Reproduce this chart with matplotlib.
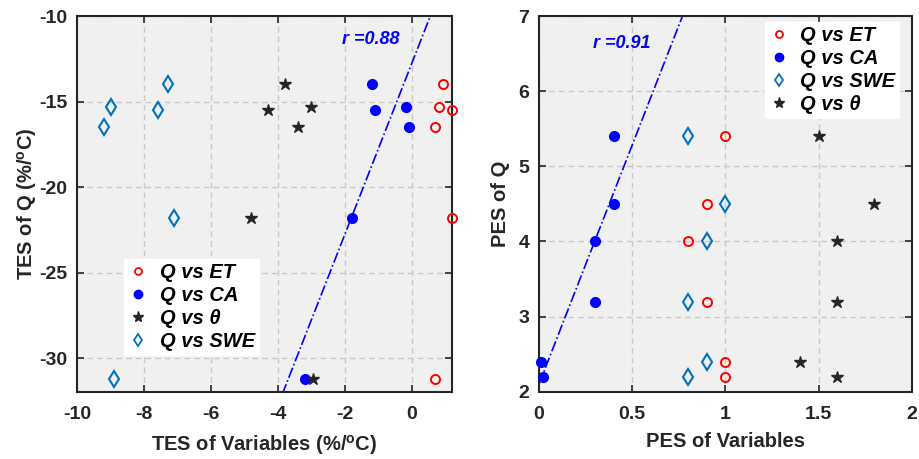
import numpy as np
import matplotlib
matplotlib.use("Agg")
import matplotlib.pyplot as plt
from matplotlib.lines import Line2D

plt.rcParams['font.family'] = ['Liberation Sans', 'DejaVu Sans']
plt.rcParams['font.weight'] = 'bold'
plt.rcParams['axes.unicode_minus'] = False
plt.rcParams['mathtext.fontset'] = 'custom'
plt.rcParams['mathtext.rm'] = 'Liberation Sans:bold'
plt.rcParams['mathtext.bf'] = 'Liberation Sans:bold'

# ---- Left panel (TES) ----
tes_et_x = [0.93, 0.81, 1.2, 0.70, 1.2, 0.70]
tes_et_y = [-14.0, -15.3, -15.5, -16.5, -21.8, -31.2]
tes_ca_x = [-1.19, -0.18, -1.09, -0.08, -1.78, -3.19]
tes_ca_y = [-14.0, -15.3, -15.5, -16.5, -21.8, -31.2]
tes_th_x = [-3.8, -3.0, -4.3, -3.4, -4.8, -2.96]
tes_th_y = [-14.0, -15.3, -15.5, -16.5, -21.8, -31.2]
tes_swe_x = [-7.3, -9.0, -7.6, -9.2, -7.1, -8.9]
tes_swe_y = [-14.0, -15.3, -15.5, -16.5, -21.8, -31.2]

# ---- Right panel (PES) ----
pes_et_x = [1.0, 0.9, 0.8, 0.9, 1.0, 1.0]
pes_et_y = [5.4, 4.5, 4.0, 3.2, 2.4, 2.2]
pes_ca_x = [0.4, 0.4, 0.3, 0.3, 0.01, 0.02]
pes_ca_y = [5.4, 4.5, 4.0, 3.2, 2.4, 2.2]
pes_swe_x = [0.8, 1.0, 0.9, 0.8, 0.9, 0.8]
pes_swe_y = [5.4, 4.5, 4.0, 3.2, 2.4, 2.2]
pes_th_x = [1.5, 1.8, 1.6, 1.6, 1.4, 1.6]
pes_th_y = [5.4, 4.5, 4.0, 3.2, 2.4, 2.2]

RED = '#FF0000'
BLUE = '#0000FF'
DARK = '#262626'
SWEC = '#0072BD'
BG = '#F0F0F0'

fig = plt.figure(figsize=(9.19, 4.59), dpi=100)
axL = fig.add_axes([0.0841, 0.1453, 0.4074, 0.8198])
axR = fig.add_axes([0.5865, 0.1466, 0.4056, 0.8185])

LEGPROP = {'size': 14.5, 'weight': 'bold', 'style': 'italic'}


def style(ax):
    ax.set_facecolor(BG)
    ax.grid(True, linestyle=(0, (4, 3)), color='#C8C8C8', linewidth=1.0)
    ax.set_axisbelow(True)
    for s in ax.spines.values():
        s.set_color(DARK)
        s.set_linewidth(1.5)
    ax.tick_params(direction='in', top=True, right=True, length=5, width=1.2,
                   colors=DARK, labelsize=14, pad=7)
    ax.tick_params(axis='x', pad=10)
    for lab in ax.get_xticklabels() + ax.get_yticklabels():
        lab.set_fontweight('bold')


def fitline(ax, x, y, xlo, xhi):
    k, b = np.polyfit(x, y, 1)
    xs = np.array([xlo, xhi])
    ax.plot(xs, k * xs + b, color=BLUE, linestyle='-.', linewidth=1.2, zorder=2)
    return np.corrcoef(x, y)[0, 1]

# Left panel
ms_o, ms_c, ms_s, ms_d = 6.5, 7, 9, 8
axL.plot(tes_et_x, tes_et_y, 'o', mfc='none', mec=RED, mew=1.4, ms=ms_o, clip_on=False, zorder=3)
axL.plot(tes_ca_x, tes_ca_y, 'o', color=BLUE, ms=ms_c, clip_on=False, zorder=3)
axL.plot(tes_th_x, tes_th_y, '*', color=DARK, ms=ms_s, clip_on=False, zorder=3)
axL.plot(tes_swe_x, tes_swe_y, 'd', mfc='none', mec=SWEC, mew=1.5, ms=ms_d, clip_on=False, zorder=3)
rL = fitline(axL, tes_ca_x, tes_ca_y, -10, 1.2)
axL.set_xlim(-10, 1.2)
axL.set_ylim(-32, -10)
axL.set_xticks([-10, -8, -6, -4, -2, 0])
axL.set_yticks([-30, -25, -20, -15, -10])
axL.text(-2.07, -11.4, 'r =%.2f' % rL, color=BLUE, fontsize=13, fontweight='bold',
         fontstyle='italic', va='center', ha='left')
axL.set_xlabel(r'TES of Variables (%/$^{\mathbf{o}}$C)', fontsize=14.5, fontweight='bold', color=DARK, labelpad=7)
axL.set_ylabel(r'TES of Q (%/$^{\mathbf{o}}$C)', fontsize=14.5, fontweight='bold', color=DARK, labelpad=0)
style(axL)

hL = [Line2D([], [], marker='o', ls='none', mfc='none', mec=RED, mew=1.3, ms=5),
      Line2D([], [], marker='o', ls='none', color=BLUE, ms=6),
      Line2D([], [], marker='*', ls='none', color=DARK, ms=8),
      Line2D([], [], marker='d', ls='none', mfc='none', mec=SWEC, mew=1.3, ms=6.5)]
axL.legend(hL, ['Q vs ET', 'Q vs CA', 'Q vs θ', 'Q vs SWE'],
           loc='upper left', bbox_to_anchor=(0.1255, 0.354), frameon=True, fancybox=False,
           framealpha=1, edgecolor='white', prop=LEGPROP,
           handlelength=1.0, handletextpad=0.55, labelspacing=0.2, borderpad=0.2,
           borderaxespad=0)

# Right panel
axR.plot(pes_et_x, pes_et_y, 'o', mfc='none', mec=RED, mew=1.4, ms=ms_o, clip_on=False, zorder=3)
axR.plot(pes_ca_x, pes_ca_y, 'o', color=BLUE, ms=ms_c, clip_on=False, zorder=3)
axR.plot(pes_swe_x, pes_swe_y, 'd', mfc='none', mec=SWEC, mew=1.5, ms=ms_d, clip_on=False, zorder=3)
axR.plot(pes_th_x, pes_th_y, '*', color=DARK, ms=ms_s, clip_on=False, zorder=3)
rR = fitline(axR, pes_ca_x, pes_ca_y, 0, 2)
axR.set_xlim(0, 2)
axR.set_ylim(2, 7)
axR.set_xticks([0, 0.5, 1, 1.5, 2])
axR.set_xticklabels(['0', '0.5', '1', '1.5', '2'])
axR.set_yticks([2, 3, 4, 5, 6, 7])
axR.text(0.29, 6.64, 'r =%.2f' % rR, color=BLUE, fontsize=13, fontweight='bold',
         fontstyle='italic', va='center', ha='left')
axR.set_xlabel('PES of Variables', fontsize=14.5, fontweight='bold', color=DARK, labelpad=7)
axR.set_ylabel('PES of Q', fontsize=14.5, fontweight='bold', color=DARK, labelpad=6)
style(axR)

hR = [hL[0], hL[1], hL[3], hL[2]]
axR.legend(hR, ['Q vs ET', 'Q vs CA', 'Q vs SWE', 'Q vs θ'],
           loc='upper right', bbox_to_anchor=(0.967, 0.985), frameon=True, fancybox=False,
           framealpha=1, edgecolor='white', prop=LEGPROP,
           handlelength=1.0, handletextpad=0.55, labelspacing=0.2, borderpad=0.2,
           borderaxespad=0)

fig.savefig('out.png', dpi=100)
